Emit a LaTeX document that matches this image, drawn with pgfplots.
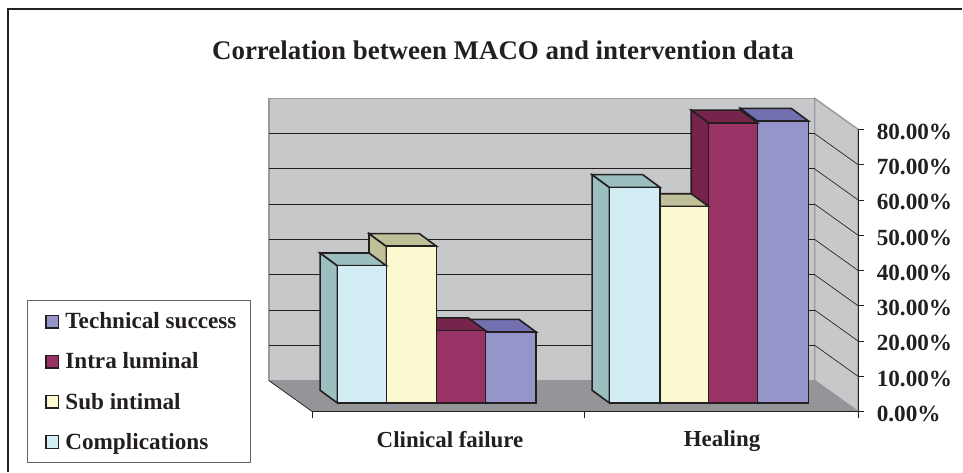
\documentclass[border=0pt]{standalone}
\usepackage{fontspec}
\setmainfont{Liberation Serif}
\usepackage{pgfplots}
\pgfplotsset{compat=1.18}
\definecolor{wall}{HTML}{C7C8CA}
\definecolor{wallEdge}{HTML}{9A9B9E}
\definecolor{floorC}{HTML}{939598}
\definecolor{edge}{HTML}{231F20}
\definecolor{cF}{HTML}{D2EDF3}\definecolor{cS}{HTML}{9BBFBF}
\definecolor{sF}{HTML}{FCF8CF}\definecolor{sS}{HTML}{BFBF98}
\definecolor{iF}{HTML}{993366}\definecolor{iS}{HTML}{76244B}
\definecolor{tF}{HTML}{9595C9}\definecolor{tS}{HTML}{7370B0}
\newcommand{\threedbar}[5]{%
  % left px, right px, value, front colour, side colour
  \pgfmathsetmacro{\yb}{2.46}%
  \pgfmathsetmacro{\yt}{#3+2.46}%
  \pgfmathsetmacro{\ybb}{2.46+3.6}%
  \pgfmathsetmacro{\ytb}{#3+2.46+3.6}%
  \pgfmathsetmacro{\xlb}{#1-17.3}%
  \pgfmathsetmacro{\xrb}{#2-17.3}%
  \addplot[fill=#5,draw=edge,line width=1.2pt,forget plot] coordinates {(\xlb,\ybb) (\xlb,\ytb) (#1,\yt) (#1,\yb)} -- cycle;
  \addplot[fill=#5,draw=edge,line width=1.2pt,forget plot] coordinates {(\xlb,\ytb) (\xrb,\ytb) (#2,\yt) (#1,\yt)} -- cycle;
  \addplot[fill=#4,draw=edge,line width=1.2pt,forget plot] coordinates {(#1,\yb) (#1,\yt) (#2,\yt) (#2,\yb)} -- cycle;
}
\newcommand{\gridpair}[1]{%
  \pgfmathsetmacro{\yy}{#1+8.78}%
  \addplot[draw=edge,line width=0.7pt,forget plot] coordinates {(269.3,\yy) (815.6,\yy)};
  \addplot[draw=edge,line width=0.5pt,forget plot] coordinates {(815.6,\yy) (859,#1)};
}
\begin{document}
\begin{tikzpicture}
\begin{axis}[
  scale only axis, width=409.7pt, height=211.9pt,
  xmin=312.7, xmax=859, ymin=0, ymax=80,
  clip=false, no markers, axis on top=true,
  axis x line*=bottom, axis y line*=right,
  axis line style={draw=edge,line width=0.7pt,-},
  xtick={312.7,585.5,859}, xticklabels={},
  extra x ticks={450.5,722.8},
  extra x tick labels={Clinical failure,Healing},
  extra x tick style={major tick length=0pt,
     tick label style={font=\fontsize{17.2}{18}\selectfont\bfseries,text=edge,yshift=-11pt}},
  ytick={0,10,...,80},
  yticklabels={0.00\%,10.00\%,20.00\%,30.00\%,40.00\%,50.00\%,60.00\%,70.00\%,80.00\%},
  yticklabel style={anchor=west,font=\fontsize{17.4}{18}\selectfont\bfseries,text=edge,xshift=6pt,yshift=-1.8pt},
  major tick length=4.5pt,
  tick style={draw=edge,line width=0.6pt},
  tick align=outside,
  legend cell align=left,
  legend style={at={(axis cs:26.7,31.5)},anchor=north west,draw=edge!70,line width=0.7pt,
     font=\fontsize{17.4}{18}\selectfont\bfseries,text=edge,
     row sep=12.5pt,inner xsep=8.8pt,inner ysep=6.9pt,fill=white,
     /tikz/every odd column/.append style={column sep=2.5pt},
     /tikz/every even column/.append style={column sep=0pt}},
  legend image code/.code={\path (0pt,0pt);\draw[#1,draw=edge,line width=0.9pt] (5pt,-4.6pt) rectangle (14.6pt,4.6pt);},
]
% page frame and size
\path (axis cs:0,-16.99) rectangle (axis cs:963,116.67);
\addplot[draw=edge,line width=1.5pt,forget plot] coordinates {(8.5,-16.99) (8.5,114.2) (963,114.2)};
% back wall, side wall, floor
\addplot[fill=wall,draw=wallEdge,line width=1.1pt,forget plot] coordinates {(269.3,8.78) (269.3,88.78) (815.6,88.78) (815.6,8.78)} -- cycle;
\addplot[fill=wall,draw=wallEdge,line width=1.1pt,forget plot] coordinates {(815.6,8.78) (815.6,88.78) (859,80) (859,0)} -- cycle;
\addplot[fill=floorC,draw=floorC,line width=0.5pt,forget plot] coordinates {(269.3,8.78) (815.6,8.78) (859,0) (312.7,0)} -- cycle;
\addplot[draw=edge,line width=0.5pt,forget plot] coordinates {(269.3,8.78) (312.7,0)};
\gridpair{10}\gridpair{20}\gridpair{30}\gridpair{40}\gridpair{50}\gridpair{60}\gridpair{70}
% bars, far ones first
\threedbar{486}{536.7}{20.1}{tF}{tS}
\threedbar{437}{486}{20.5}{iF}{iS}
\threedbar{386.7}{437}{44.4}{sF}{sS}
\threedbar{337.7}{386.7}{38.9}{cF}{cS}
\threedbar{758.3}{809.3}{79.9}{tF}{tS}
\threedbar{709.3}{758.3}{79.4}{iF}{iS}
\threedbar{660.7}{709.3}{55.7}{sF}{sS}
\threedbar{610}{660.7}{61.1}{cF}{cS}
\node[anchor=center,font=\fontsize{20.2}{22}\selectfont\bfseries,text=edge] at (axis cs:503.5,102.4) {Correlation between MACO and intervention data};
\addlegendimage{fill=tF}\addlegendentry{Technical success}
\addlegendimage{fill=iF}\addlegendentry{Intra luminal}
\addlegendimage{fill=sF}\addlegendentry{Sub intimal}
\addlegendimage{fill=cF}\addlegendentry{Complications}
\end{axis}
\end{tikzpicture}
\end{document}
